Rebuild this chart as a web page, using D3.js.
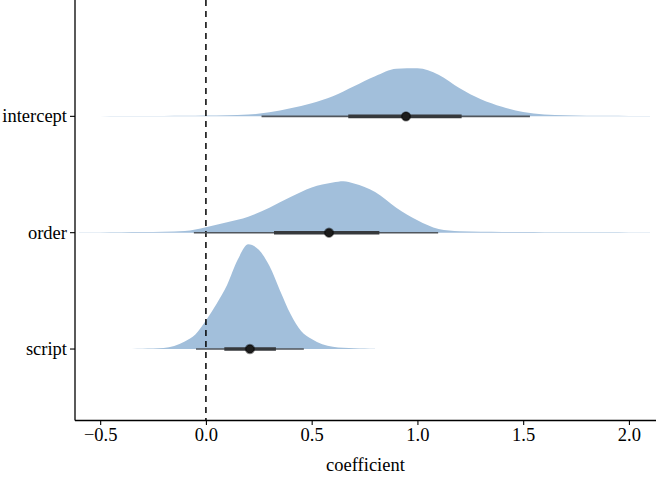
<!DOCTYPE html>
<html>
<head>
<meta charset="utf-8">
<script src="https://cdn.jsdelivr.net/npm/d3@7"></script>
<style>
  html, body { margin: 0; padding: 0; background: #fff; }
  svg { display: block; }
  text { font-family: "Liberation Serif", "DejaVu Serif", serif; fill: #000; }
</style>
</head>
<body>
<div id="chart"></div>
<script>
// ---- data ----
const categories = ["intercept", "order", "script"];
const xTicks = [-0.5, 0, 0.5, 1.0, 1.5, 2.0];

// density grids (relative density, common scale)
const interceptX = [-0.6,-0.5,-0.4,-0.3,-0.2,-0.1,0.0,0.1,0.2,0.3,0.4,0.5,0.6,0.7,0.8,0.9,1.0,1.1,1.2,1.3,1.4,1.5,1.6,1.7,1.8,1.9,2.0,2.1];
const interceptD = [0.15,0.2,0.25,0.35,0.45,0.65,0.9,1.2,1.8,4,8,13,20,30,40,47.5,48,41.5,28,17,9.5,4.3,1.8,1.0,0.7,0.5,0.4,0.3];

const orderX = [-0.6,-0.5,-0.4,-0.3,-0.2,-0.1,0.0,0.1,0.2,0.3,0.4,0.5,0.6,0.65,0.7,0.8,0.9,1.0,1.1,1.2,1.3,1.4,1.5,1.6,1.7,1.8,1.9,2.0,2.1];
const orderD = [0.2,0.3,0.4,0.6,0.9,1.6,5.5,10.5,16,25,35.5,45,50,51.3,49,40.5,25,12.5,3.8,1.5,1.0,0.8,0.6,0.5,0.45,0.4,0.35,0.3,0.3];

const scriptX = [-0.35,-0.3,-0.25,-0.2,-0.15,-0.1,-0.05,0.0,0.05,0.1,0.15,0.2,0.25,0.3,0.35,0.4,0.45,0.5,0.55,0.6,0.65,0.7,0.75,0.8];
const scriptD = [0.1,0.3,0.5,1.0,3.0,7.5,14.5,28.5,45,64,89,104.5,99,83,58.5,35,18,10,4.8,2.3,1.3,0.8,0.5,0.2];

// point intervals: median, 66% and 95% intervals
const medians = [0.946, 0.582, 0.208];
const lo66 = [0.673, 0.322, 0.087];
const hi66 = [1.209, 0.820, 0.331];
const lo95 = [0.263, -0.057, -0.047];
const hi95 = [1.532, 1.098, 0.463];

const densX = [interceptX, orderX, scriptX];
const densD = [interceptD, orderD, scriptD];

// ---- layout ----
const W = 656, H = 477;
const mLeft = 75, mRight = 656, mTop = 0, mBottom = 420;

const svg = d3.select("#chart").append("svg")
  .attr("width", W).attr("height", H);

const x = d3.scaleLinear().domain([-0.619, 2.128]).range([mLeft, mRight]);
// category positions: script = 1, order = 2, intercept = 3 (ggplot-style)
const pos = d => categories.length - categories.indexOf(d);
const yPos = d3.scaleLinear().domain([0.39, 4.0]).range([mBottom, mTop]);
const unit = yPos(0) - yPos(1);
const maxD = d3.max(densD.flat());
const hScale = d3.scaleLinear().domain([0, maxD]).range([0, 0.9 * unit]);

svg.append("defs").append("clipPath").attr("id", "clip")
  .append("rect").attr("x", mLeft).attr("y", mTop)
  .attr("width", mRight - mLeft).attr("height", mBottom - mTop);

const plot = svg.append("g").attr("clip-path", "url(#clip)");

// slabs
categories.forEach((c, i) => {
  const base = yPos(pos(c));
  const pts = densX[i].map((v, j) => [v, densD[i][j]]);
  const area = d3.area()
    .x(d => x(d[0]))
    .y0(base)
    .y1(d => base - hScale(d[1]))
    .curve(d3.curveMonotoneX);
  plot.append("path").datum(pts)
    .attr("d", area)
    .attr("fill", "#a2bfdb");
});

// dashed zero line
plot.append("line")
  .attr("x1", x(0)).attr("x2", x(0))
  .attr("y1", mTop).attr("y2", mBottom)
  .attr("stroke", "#000").attr("stroke-width", 1.5)
  .attr("stroke-dasharray", "6,5");

// intervals
categories.forEach((c, i) => {
  const base = yPos(pos(c));
  plot.append("line")
    .attr("x1", x(lo95[i])).attr("x2", x(hi95[i]))
    .attr("y1", base).attr("y2", base)
    .attr("stroke", "#50565d").attr("stroke-width", 1.6);
  plot.append("line")
    .attr("x1", x(lo66[i])).attr("x2", x(hi66[i]))
    .attr("y1", base).attr("y2", base)
    .attr("stroke", "#36393c").attr("stroke-width", 3.6);
  plot.append("circle")
    .attr("cx", x(medians[i])).attr("cy", base).attr("r", 4.3)
    .attr("fill", "#1c1c1c")
    .attr("stroke", "rgba(0,0,0,0.45)").attr("stroke-width", 1.8);
});

// axes
const xAxis = d3.axisBottom(x).tickValues(xTicks)
  .tickFormat(d3.format(".1f")).tickSize(5).tickSizeOuter(0);
const gx = svg.append("g").attr("transform", `translate(0,${mBottom})`).call(xAxis);
gx.select(".domain").attr("stroke", "#000").attr("stroke-width", 1.3)
  .attr("d", `M${mLeft},0.5H${mRight}`);
gx.selectAll(".tick line").attr("stroke", "#000").attr("stroke-width", 1.1);
gx.selectAll(".tick text")
  .style("font-family", '"Liberation Serif", serif')
  .style("font-size", "18.5px").attr("fill", "#000").attr("dy", "0.75em").attr("y", 7);

const gy = svg.append("g");
gy.append("line").attr("x1", mLeft).attr("x2", mLeft)
  .attr("y1", mTop).attr("y2", mBottom + 0.6)
  .attr("stroke", "#000").attr("stroke-width", 1.3);
categories.forEach(c => {
  const yy = yPos(pos(c));
  gy.append("line").attr("x1", mLeft - 5).attr("x2", mLeft)
    .attr("y1", yy).attr("y2", yy)
    .attr("stroke", "#000").attr("stroke-width", 1.1);
  gy.append("text").attr("x", mLeft - 8).attr("y", yy).attr("dy", "0.33em")
    .attr("text-anchor", "end")
    .style("font-size", "18.5px").text(c);
});

// axis title
svg.append("text")
  .attr("x", (mLeft + mRight) / 2).attr("y", 471)
  .attr("text-anchor", "middle")
  .style("font-size", "18.5px").text("coefficient");
</script>
</body>
</html>
